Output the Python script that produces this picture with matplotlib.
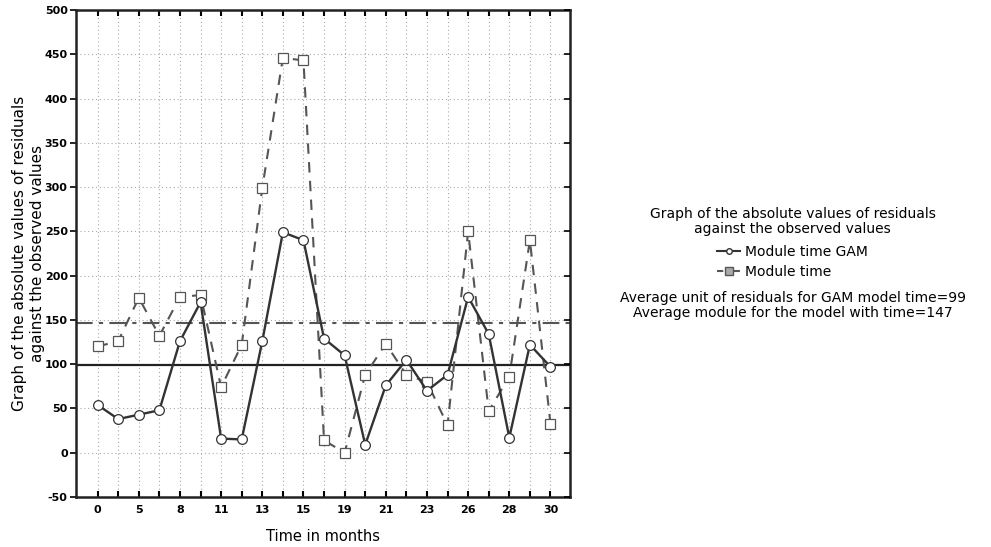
import numpy as np
import matplotlib.pyplot as plt
from matplotlib.lines import Line2D

plt.rcParams['axes.unicode_minus'] = False

# x tick labels (shown on every other point)
tick_labels = ['0', '5', '8', '11', '13', '15', '19', '21', '23', '26', '28', '30']

# absolute residuals, GAM model
gam_resid = [54, 38, 43, 48, 126, 170, 16, 15, 126, 249, 240, 129, 110, 9,
             76, 105, 70, 88, 176, 134, 17, 122, 97]
# absolute residuals, model with time
time_resid = [120, 126, 175, 132, 176, 178, 74, 122, 299, 446, 443, 14, 0, 88,
              123, 88, 80, 31, 250, 47, 86, 240, 33]

mean_gam = 99
mean_time = 147

ylabel = 'Graph of the absolute values of residuals\nagainst the observed values'

fig = plt.figure(figsize=(9.91, 5.47), dpi=100)
ax = fig.add_axes([0.0767, 0.0914, 0.4985, 0.8903])

x = np.arange(len(gam_resid))

ax.plot(x, time_resid, linestyle=(0, (5, 4)), color='#555555', lw=1.5,
        marker='s', markersize=7, markerfacecolor='white', markeredgecolor='#555555',
        markeredgewidth=0.9, zorder=3)
ax.plot(x, gam_resid, linestyle='-', color='#333333', lw=1.7,
        marker='o', markersize=7, markerfacecolor='white', markeredgecolor='#333333',
        markeredgewidth=0.9, zorder=4)

ax.axhline(mean_gam, color='#222222', lw=1.6, zorder=2)
ax.axhline(mean_time, color='#555555', lw=1.5, linestyle=(0, (8, 3, 2, 3)), zorder=2)

ax.set_xlim(-1.05, len(x) - 0.05)
ax.set_ylim(-50, 500)
ax.set_yticks(np.arange(-50, 501, 50))
ax.set_xticks(x)
ax.set_xticklabels([tick_labels[i // 2] if i % 2 == 0 else '' for i in x])

ax.grid(True, linestyle=(0, (1, 2.5)), color='#aaaaaa', lw=0.8)
ax.tick_params(axis='x', direction='in', top=True, length=4, width=1.5,
               labelsize=8, pad=6)
ax.tick_params(axis='y', direction='out', right=False, length=4, width=1.2,
               labelsize=8, pad=2)
for lab in ax.get_xticklabels() + ax.get_yticklabels():
    lab.set_fontweight('bold')
for s in ax.spines.values():
    s.set_linewidth(1.8)
    s.set_color('#222222')

# inward ticks on the right spine
ax_r = ax.twinx()
ax_r.set_ylim(ax.get_ylim())
ax_r.set_yticks(np.arange(-50, 501, 50))
ax_r.tick_params(axis='y', direction='in', length=4, width=1.2, labelright=False)
ax_r.spines[:].set_visible(False)

ax.set_xlabel('Time in months', fontsize=10.5, labelpad=10)
ax.set_ylabel(ylabel, fontsize=11, labelpad=0)

# legend block on the right
cx = 0.80
fig.text(cx, 0.595, ylabel, ha='center', va='center', fontsize=10, linespacing=1.15)
handles = [
    Line2D([], [], color='#333333', lw=1.5, marker='o', markersize=4,
           markerfacecolor='white', markeredgecolor='#333333'),
    Line2D([], [], color='#555555', lw=1.5, linestyle=(0, (3, 1)), marker='s',
           markersize=6, markerfacecolor='#aaaaaa', markeredgecolor='#555555'),
]
fig.legend(handles, ['Module time GAM', 'Module time'], loc='center',
           bbox_to_anchor=(cx, 0.521), frameon=False, fontsize=10,
           handlelength=1.6, handletextpad=0.4, labelspacing=0.45,
           borderpad=0, borderaxespad=0)
fig.text(cx, 0.4415, f'Average unit of residuals for GAM model time={mean_gam}\n'
                     f'Average module for the model with time={mean_time}',
         ha='center', va='center', fontsize=10, linespacing=1.15)

fig.savefig('out.png', dpi=100)
